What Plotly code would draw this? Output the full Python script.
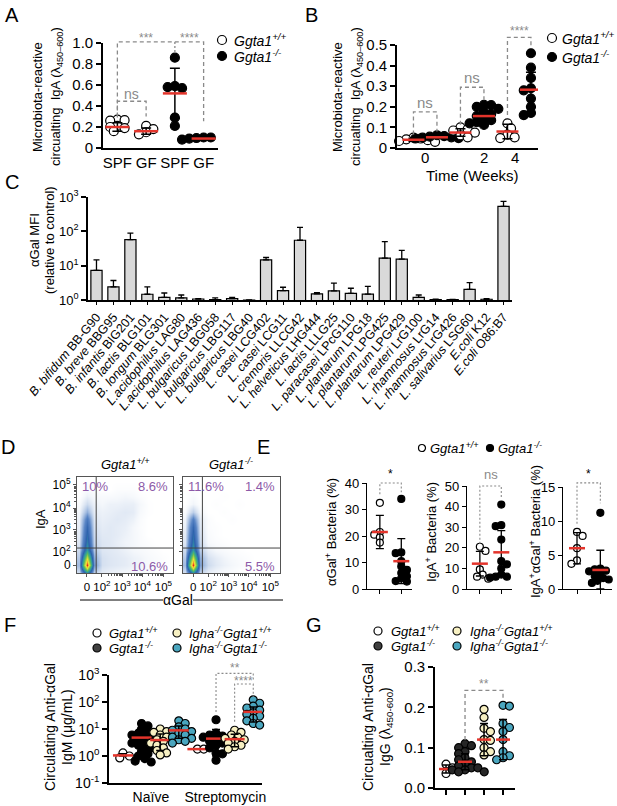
import numpy as np
import plotly.graph_objects as go

W, H = 617, 806
FONT = "Liberation Sans, Arial, Helvetica, sans-serif"
RED = "#e3342b"
GREY = "#8a8a8a"
PURPLE = "#8d5aa8"
FILL = {"wt": "white", "ko": "black", "kod": "#262626", "igwt": "#f7f0c2", "igko": "#4aa6bf"}

# ---------------- data ----------------
# A: microbiota-reactive IgA, SPF vs GF
A_GROUPS = ["SPF", "GF", "SPF", "GF"]
A_GENO = ["wt", "wt", "ko", "ko"]
A_POINTS = [
    [0.27, 0.265, 0.26, 0.21, 0.20, 0.19, 0.17, 0.16],
    [0.21, 0.18, 0.15, 0.13],
    [0.86, 0.59, 0.58, 0.57, 0.29, 0.21],
    [0.10, 0.10, 0.095, 0.09, 0.09, 0.085, 0.08, 0.08],
]
A_MEAN = [0.20, 0.16, 0.52, 0.09]
A_SD = [0.04, 0.03, 0.24, 0.01]

# B: time course
B_WEEKS = ["0", "2", "4"]
B_WT_POINTS = [
    [0.050, 0.046, 0.042, 0.038, 0.034, 0.030],
    [0.100, 0.092, 0.085, 0.075, 0.062, 0.052],
    [0.120, 0.095, 0.065, 0.052, 0.048],
]
B_KO_POINTS = [
    [0.062, 0.058, 0.055, 0.052, 0.050, 0.048, 0.046],
    [0.210, 0.208, 0.200, 0.190, 0.175, 0.165, 0.155, 0.145, 0.135, 0.125, 0.120, 0.112],
    [0.46, 0.39, 0.34, 0.29, 0.28, 0.24, 0.20, 0.17, 0.16, 0.16],
]
B_WT_MEAN = [0.040, 0.075, 0.080]
B_WT_SD = [0.007, 0.018, 0.035]
B_KO_MEAN = [0.052, 0.155, 0.283]
B_KO_SD = [0.005, 0.04, 0.085]

# C: alpha-Gal MFI of bacterial strains
C_STRAINS = [
    "<i>B. bifidum</i> BB-G90", "<i>B. breve</i> BBG95", "<i>B. infantis</i> BIG201",
    "<i>B. lactis</i> BLG101", "<i>B. longum</i> BLG301", "<i>L.acidophilus</i> LAG80",
    "<i>L.acidophilus</i> LAG436", "<i>L. bulgaricus</i> LBG058", "<i>L. bulgaricus</i> LBG117",
    "<i>L. bulgaricus</i> LBG40", "<i>L. casei</i> LCG402", "<i>L. casei</i> LCG11",
    "<i>L. cremoris</i> LLCG42", "<i>L. helveticus</i> LHG444", "<i>L. lactis</i> LLLG25",
    "<i>L. paracasei</i> LPcG110", "<i>L. plantarum</i> LPG18", "<i>L. plantarum</i> LPG425",
    "<i>L. plantarum</i> LPG429", "<i>L. reuteri</i> LrG100", "<i>L. rhamnosus</i> LrG14",
    "<i>L. rhamnosus</i> LrG426", "<i>L. salivarius</i> LSG60", "<i>E.coli</i> K12",
    "<i>E.coli</i> O86:B7",
]
C_MFI = [7.3, 2.4, 57, 1.47, 1.2, 1.15, 1.07, 1.02, 1.1, 1.0, 14.7, 1.87, 55, 1.5, 1.85,
         1.55, 1.48, 16.5, 15.5, 1.2, 1.02, 1.02, 2.05, 1.05, 535]
C_UPPER = [14.7, 3.7, 89, 2.4, 1.6, 1.4, 1.1, 1.15, 1.2, 1.0, 17.3, 2.35, 130, 1.65, 3.1,
           2.2, 2.5, 50, 28, 1.4, 1.05, 1.04, 3.2, 1.1, 750]

# D: flow cytometry density (grid, rows bottom -> top)
D_GRID_X = [0.02, 0.10, 0.18, 0.26, 0.34, 0.42, 0.50, 0.58, 0.66, 0.74, 0.82, 0.90, 0.98]
D_GRID_Y = [0.00, 0.08, 0.16, 0.24, 0.32, 0.40, 0.48, 0.56, 0.64, 0.72, 0.80, 0.88, 0.96]
D_WT_DENSITY = [
    [0.6, 4.0, 0.8, 0.4, 0.3, 0.25, 0.2, 0.15, 0.15, 0.1, 0, 0, 0],
    [1.2, 10, 1.8, 0.6, 0.5, 0.45, 0.4, 0.3, 0.25, 0.15, 0.1, 0.05, 0],
    [1.0, 7.5, 1.5, 0.6, 0.5, 0.45, 0.4, 0.3, 0.25, 0.15, 0.1, 0.05, 0],
    [0.7, 4.5, 1.0, 0.5, 0.45, 0.4, 0.3, 0.2, 0.15, 0.1, 0.05, 0, 0],
    [0.5, 3.8, 0.8, 0.5, 0.45, 0.35, 0.25, 0.2, 0.1, 0.05, 0, 0, 0],
    [0.4, 3.4, 0.7, 0.45, 0.45, 0.4, 0.3, 0.2, 0.1, 0, 0, 0, 0],
    [0.35, 3.0, 0.6, 0.4, 0.45, 0.4, 0.35, 0.2, 0.08, 0, 0, 0, 0],
    [0.3, 2.4, 0.5, 0.35, 0.4, 0.45, 0.4, 0.3, 0.1, 0, 0, 0, 0],
    [0.2, 1.4, 0.4, 0.3, 0.35, 0.4, 0.45, 0.4, 0.15, 0.03, 0, 0, 0],
    [0.1, 0.7, 0.3, 0.2, 0.3, 0.3, 0.35, 0.35, 0.18, 0.03, 0, 0, 0],
    [0, 0.3, 0.15, 0.12, 0.12, 0.15, 0.2, 0.15, 0.06, 0, 0, 0, 0],
    [0, 0.1, 0.06, 0, 0, 0.06, 0.06, 0.06, 0, 0, 0, 0, 0],
    [0, 0, 0, 0, 0, 0, 0, 0, 0, 0, 0, 0, 0],
]
D_KO_DENSITY = [
    [0.6, 4.0, 0.8, 0.35, 0.2, 0.12, 0.08, 0, 0, 0, 0, 0, 0],
    [1.2, 10, 1.6, 0.7, 0.45, 0.3, 0.2, 0.12, 0.08, 0, 0, 0, 0],
    [1.0, 7.5, 1.4, 0.6, 0.4, 0.25, 0.15, 0.1, 0.06, 0, 0, 0, 0],
    [0.7, 4.5, 0.9, 0.35, 0.18, 0.12, 0.06, 0.04, 0, 0, 0, 0, 0],
    [0.5, 3.8, 0.7, 0.15, 0.08, 0.04, 0, 0, 0, 0, 0, 0, 0],
    [0.45, 3.4, 0.6, 0.12, 0.04, 0, 0, 0, 0, 0, 0, 0, 0],
    [0.35, 3.0, 0.5, 0.08, 0.04, 0, 0, 0, 0, 0, 0, 0, 0],
    [0.25, 2.2, 0.4, 0.08, 0, 0, 0.04, 0, 0, 0, 0, 0, 0],
    [0.12, 0.9, 0.2, 0, 0, 0.04, 0, 0, 0, 0, 0, 0, 0],
    [0, 0.25, 0.05, 0, 0.04, 0, 0, 0.04, 0, 0, 0, 0, 0],
    [0, 0.1, 0, 0, 0, 0.03, 0, 0, 0, 0, 0, 0, 0],
    [0, 0.05, 0, 0, 0, 0, 0, 0, 0, 0, 0, 0, 0],
    [0, 0, 0, 0, 0, 0, 0, 0, 0, 0, 0, 0, 0],
]
D_WT_PCT = ["10%", "8.6%", "10.6%"]
D_KO_PCT = ["11.6%", "1.4%", "5.5%"]
D_TICKS = ["0", "10<sup>2</sup>", "10<sup>3</sup>", "10<sup>4</sup>", "10<sup>5</sup>"]

# E: bacteria percentages
E_TITLES = ["αGal<sup>+</sup> Bacteria (%)", "IgA<sup>+</sup> Bacteria (%)",
            "IgA<sup>+</sup>αGal<sup>+</sup> Bacteria (%)"]
E_WT_POINTS = [
    [32.5, 21.5, 20.5, 19.5, 17.5],
    [20.5, 18.5, 9.5, 7.0, 6.0, 5.0],
    [8.4, 7.8, 6.0, 4.2, 3.7],
]
E_KO_POINTS = [
    [34, 13.8, 13.5, 10.5, 8.5, 7.2, 6, 4.8, 4, 3, 2.8],
    [41, 31, 30.5, 24, 13.5, 12, 10, 7, 6, 6, 5.5],
    [11.2, 3.0, 2.9, 2.7, 2.6, 2.2, 1.9, 1.6, 1.4, 1.2, 0.9],
]
E_WT_MEAN = [21.5, 12.3, 6.0]
E_WT_SD = [6.3, 6.0, 2.3]
E_KO_MEAN = [10.5, 17.8, 2.8]
E_KO_SD = [8.5, 10.5, 2.9]
E_SIG = ["*", "ns", "*"]

# F: anti-aGal IgM
F_TREAT = ["Naïve", "Streptomycin"]
F_GENO = ["wt", "ko", "igwt", "igko", "wt", "ko", "igwt", "igko"]
F_POINTS = [
    [1.3, 1.0, 0.85],
    [16, 13, 10, 8, 7, 6, 5.5, 5, 4, 3.5, 3, 2.5, 2.2, 2, 1.5, 1.2, 1.0, 0.8, 0.65, 0.6],
    [10, 8, 7.5, 7, 6, 5, 4, 3.5, 3, 2.5, 2, 1.6, 1.3, 1.1],
    [20, 16, 12, 10, 9, 8, 7, 6, 5, 4.5, 4, 3.5, 3],
    [1.8, 1.8],
    [22, 7, 6, 5.5, 5, 4, 3.5, 3, 2.5, 2, 1.3, 1.2, 0.7],
    [9, 7.5, 6, 5, 4.5, 4, 3.5, 3, 2.5, 2.2, 1.8],
    [120, 90, 70, 60, 50, 45, 40, 35, 30, 25, 20, 16, 14],
]
F_MEAN = [1.05, 4.8, 3.9, 8.9, 1.8, 4.4, 4.2, 43]
F_LO = [1.0, 0.9, 1.6, 4.5, 1.8, 1.0, 2.2, 18]
F_HI = [1.2, 9.0, 6.5, 13, 1.8, 9.6, 6.4, 65]

# G: anti-aGal IgG
G_GENO = ["wt", "kod", "igwt", "igko"]
G_POINTS = [
    [0.059, 0.05, 0.036],
    [0.11, 0.105, 0.10, 0.09, 0.085, 0.075, 0.07, 0.065, 0.06, 0.055, 0.05, 0.05,
     0.045, 0.045, 0.04, 0.04],
    [0.195, 0.175, 0.148, 0.14, 0.12, 0.118, 0.10, 0.09, 0.082],
    [0.205, 0.203, 0.16, 0.15, 0.14, 0.12, 0.09, 0.08, 0.075, 0.07],
]
G_MEAN = [0.047, 0.065, 0.12, 0.12]
G_SD = [0.01, 0.02, 0.04, 0.05]

LEG_WT = "<i>Ggta1<sup>+/+</sup></i>"
LEG_KO = "<i>Ggta1<sup>-/-</sup></i>"
LEG_IGWT = "<i>Igha<sup>-/-</sup>Ggta1<sup>+/+</sup></i>"
LEG_IGKO = "<i>Igha<sup>-/-</sup>Ggta1<sup>-/-</sup></i>"

# ---------------- helpers ----------------
fig = go.Figure()
axes, shapes, annots = {}, [], []


def make_panel(n, x0, x1, ytop, ybot, xr, yr, ylog=False):
    s = "" if n == 1 else str(n)
    return dict(s=s, x0=x0, x1=x1, ytop=ytop, ybot=ybot, xr=xr, yr=yr, ylog=ylog)


def xpx(p, x):
    return p["x0"] + (x - p["xr"][0]) / (p["xr"][1] - p["xr"][0]) * (p["x1"] - p["x0"])


def ypx(p, y):
    f = np.log10 if p["ylog"] else float
    lo, hi = f(p["yr"][0]), f(p["yr"][1])
    return p["ybot"] - (f(y) - lo) / (hi - lo) * (p["ybot"] - p["ytop"])


def ppu(p):
    return (p["x1"] - p["x0"]) / (p["xr"][1] - p["xr"][0])


AX = dict(showline=True, linecolor="black", linewidth=1.6, ticks="outside", ticklen=5,
          tickwidth=1.6, tickcolor="black", showgrid=False, zeroline=False, fixedrange=True,
          automargin=False, tickfont=dict(family=FONT, size=15, color="black"))


def set_axes(p, xa=None, ya=None):
    s = p["s"]
    yr = [float(np.log10(v)) for v in p["yr"]] if p["ylog"] else list(p["yr"])
    xd = dict(AX)
    xd.update(domain=[p["x0"] / W, p["x1"] / W], range=list(p["xr"]), anchor="y" + s)
    xd.update(xa or {})
    yd = dict(AX)
    yd.update(domain=[1 - p["ybot"] / H, 1 - p["ytop"] / H], range=yr, anchor="x" + s,
              type="log" if p["ylog"] else "linear")
    yd.update(ya or {})
    axes["xaxis" + s] = xd
    axes["yaxis" + s] = yd


def tkw(p):
    return dict(xaxis="x" + p["s"], yaxis="y" + p["s"], showlegend=False, hoverinfo="skip")


def swarm(p, values, size, gap=0.85):
    ys = [ypx(p, v) for v in values]
    order = sorted(range(len(values)), key=lambda i: ys[i])
    placed, offs = [], [0.0] * len(values)
    step = size * 0.4
    for n, i in enumerate(order):
        k = 0
        while True:
            cands = [0.0] if k == 0 else ([k * step, -k * step] if n % 2 else [-k * step, k * step])
            ok = None
            for c in cands:
                if all((c - a) ** 2 + (ys[i] - b) ** 2 >= (size * gap) ** 2 for a, b in placed):
                    ok = c
                    break
            if ok is not None:
                break
            k += 1
        offs[i] = ok
        placed.append((ok, ys[i]))
    return offs


def dots(p, center, values, fill, size, lw=1.2, gap=0.85):
    offs = swarm(p, values, size, gap)
    fig.add_trace(go.Scatter(
        x=[center + o / ppu(p) for o in offs], y=values, mode="markers", cliponaxis=False,
        marker=dict(size=size, color=fill, line=dict(color="black", width=lw)), **tkw(p)))


def errbar(p, center, mean, lo, hi, cap=4, thick=1.5):
    fig.add_trace(go.Scatter(
        x=[center], y=[mean], mode="markers", cliponaxis=False,
        marker=dict(size=2, color="rgba(0,0,0,0)"),
        error_y=dict(type="data", symmetric=False, array=[hi - mean], arrayminus=[mean - lo],
                     color="black", thickness=thick, width=cap), **tkw(p)))


def mean_line(p, center, mean, half, width=2.5):
    d = half / ppu(p)
    fig.add_trace(go.Scatter(x=[center - d, center + d], y=[mean, mean], mode="lines",
                             line=dict(color=RED, width=width), **tkw(p)))


def bracket(p, pts, dash="4px,3px", width=1.3):
    path = "M " + " L ".join(f"{xpx(p, x) / W:.5f},{1 - ypx(p, y) / H:.5f}" for x, y in pts)
    shapes.append(dict(type="path", xref="paper", yref="paper", path=path,
                       line=dict(color=GREY, width=width, dash=dash)))


def note(x, y, text, size=13, color="black", angle=0, xanchor="center", yanchor="middle"):
    annots.append(dict(x=x / W, y=1 - y / H, xref="paper", yref="paper", text=text,
                       showarrow=False, textangle=angle, xanchor=xanchor, yanchor=yanchor,
                       font=dict(family=FONT, size=size, color=color)))


def circ(x, y, d, fill, lw=1.2):
    shapes.append(dict(type="circle", xref="paper", yref="paper", xsizemode="pixel",
                       ysizemode="pixel", xanchor=x / W, yanchor=1 - y / H,
                       x0=-d / 2, x1=d / 2, y0=-d / 2, y1=d / 2, fillcolor=fill,
                       line=dict(color="black", width=lw)))


# ---------------- A ----------------
pA = make_panel(1, 103, 218, 43, 148, (-0.5, 3.5), (0, 1.0))
set_axes(pA, xa=dict(tickvals=[0, 1, 2, 3], ticktext=A_GROUPS, ticks=""),
         ya=dict(tickvals=[0, 0.2, 0.4, 0.6, 0.8, 1.0],
                 ticktext=["0", "0.2", "0.4", "0.6", "0.8", "1.0"]))
for i, pts in enumerate(A_POINTS):
    dots(pA, i, pts, FILL[A_GENO[i]], 9, gap=0.6)
    errbar(pA, i, A_MEAN[i], A_MEAN[i] - A_SD[i], A_MEAN[i] + A_SD[i], cap=5)
    mean_line(pA, i, A_MEAN[i], 12)
bracket(pA, [(0, 0.30), (0, 0.445), (1, 0.445), (1, 0.30)])
bracket(pA, [(0, 0.29), (0, 1.01), (3, 1.01), (3, 0.255)])
bracket(pA, [(2, 1.01), (2, 0.905)], dash="2px,2px")
note(xpx(pA, 0.5), ypx(pA, 0.51), "ns", 14, GREY)
note(xpx(pA, 1), 38, "***", 12, GREY)
note(xpx(pA, 2.5), 38, "****", 12, GREY)
note(38, 97, "Microbiota-reactive", 13, angle=-90)
note(57, 97, "circualting\u00a0 IgA (λ<sub>450–600</sub>)", 13, angle=-90)
circ(222, 40, 9, "white")
circ(222, 56, 9, "black")
note(232, 40, LEG_WT, 14, xanchor="left")
note(232, 56, LEG_KO, 14, xanchor="left")

# ---------------- B ----------------
pB = make_panel(2, 397, 538, 45, 148, (-0.6, 2.4), (0, 0.5))
B_TICK_POS = [0, 1.25, 1.9]
set_axes(pB, xa=dict(tickvals=B_TICK_POS, showticklabels=False, ticks=""),
         ya=dict(tickvals=[0, 0.1, 0.2, 0.3, 0.4, 0.5],
                 ticktext=["0", "0.1", "0.2", "0.3", "0.4", "0.5"]))
for pos, lab in zip(B_TICK_POS, B_WEEKS):
    note(xpx(pB, pos), 158, lab, 15)
for g in range(3):
    dots(pB, g - 0.25, B_WT_POINTS[g], "white", 9, gap=0.65)
    dots(pB, g + 0.25, B_KO_POINTS[g], "black", 9, gap=0.65)
    for c, m, s in ((g - 0.25, B_WT_MEAN[g], B_WT_SD[g]), (g + 0.25, B_KO_MEAN[g], B_KO_SD[g])):
        errbar(pB, c, m, m - s, m + s, cap=5)
        mean_line(pB, c, m, 11)
bracket(pB, [(-0.25, 0.065), (-0.25, 0.175), (0.25, 0.175), (0.25, 0.08)])
bracket(pB, [(0.75, 0.113), (0.75, 0.295), (1.25, 0.295), (1.25, 0.234)])
bracket(pB, [(1.75, 0.16), (1.75, 0.537), (2.25, 0.537), (2.25, 0.49)])
note(xpx(pB, 0), ypx(pB, 0.22), "ns", 15, GREY)
note(xpx(pB, 1), ypx(pB, 0.34), "ns", 15, GREY)
note(xpx(pB, 2), 31, "****", 12, GREY)
note(472, 175, "Time (Weeks)", 15)
note(338, 97, "Microbiota-reactive", 13, angle=-90)
note(357, 97, "circualting\u00a0 IgA (λ<sub>450–600</sub>)", 13, angle=-90)
circ(552, 38, 9, "white")
circ(552, 57, 9, "black")
note(560, 38, LEG_WT, 14, xanchor="left")
note(560, 57, LEG_KO, 14, xanchor="left")

# ---------------- C ----------------
pC = make_panel(3, 88, 512, 197, 300, (-0.5, 24.5), (1, 1000), ylog=True)
set_axes(pC,
         xa=dict(tickvals=list(range(len(C_STRAINS))), ticktext=C_STRAINS, tickangle=-50,
                 ticklen=3, tickwidth=1.2, tickfont=dict(family=FONT, size=12.5, color="black")),
         ya=dict(tickvals=[1, 10, 100, 1000],
                 ticktext=["10<sup>0</sup>", "10<sup>1</sup>", "10<sup>2</sup>", "10<sup>3</sup>"],
                 tickfont=dict(family=FONT, size=13, color="black")))
fig.add_trace(go.Bar(
    x=list(range(len(C_MFI))), y=C_MFI, width=0.66,
    marker=dict(color="#d9d9d9", line=dict(color="black", width=1.2)),
    error_y=dict(type="data", symmetric=False, array=[u - m for u, m in zip(C_UPPER, C_MFI)],
                 arrayminus=[0] * len(C_MFI), color="black", thickness=1.3, width=3),
    **tkw(pC)))
note(35, 240, "αGal MFI", 13, angle=-90)
note(50, 240, "(relative to control)", 13, angle=-90)

# ---------------- D ----------------
D_TICK_X = [0.104, 0.26, 0.47, 0.68, 0.90]
D_TICK_Y = [0.083, 0.219, 0.448, 0.677, 0.917]


def minor_pos(major):
    out = []
    for a, b in zip(major[1:-1], major[2:]):
        out += [a + (b - a) * np.log10(k) for k in range(2, 10)]
    return [float(v) for v in out]


DCOLORS = [[0, "#ffffff"], [0.02, "#f4f7fb"], [0.05, "#dde6f3"], [0.1, "#b3c8e6"],
           [0.2, "#5a86c6"], [0.32, "#2e62ad"], [0.45, "#2f9aa0"], [0.58, "#5bbb5e"],
           [0.7, "#b5d43c"], [0.8, "#f2e23a"], [0.9, "#f39a2c"], [1.0, "#e2261f"]]
DAX = dict(linecolor="#555555", linewidth=1, mirror=True, ticklen=3, tickwidth=1,
           tickcolor="#555555", tickfont=dict(family=FONT, size=12, color="black"))
pD = [make_panel(4, 77, 173, 477, 573, (0, 1), (0, 1)),
      make_panel(5, 183, 280, 477, 573, (0, 1), (0, 1))]
for k, (p, dens, pct) in enumerate(zip(pD, [D_WT_DENSITY, D_KO_DENSITY], [D_WT_PCT, D_KO_PCT])):
    xa = dict(DAX, tickvals=D_TICK_X, ticktext=D_TICKS, tickangle=0,
              tickfont=dict(family=FONT, size=11.5, color="black"),
              minor=dict(tickvals=minor_pos(D_TICK_X), ticks="outside", ticklen=2,
                         tickcolor="#555555"))
    ya = dict(DAX, tickvals=D_TICK_Y, ticktext=D_TICKS, showticklabels=(k == 0),
              minor=dict(tickvals=minor_pos(D_TICK_Y), ticks="outside", ticklen=2,
                         tickcolor="#555555"))
    set_axes(p, xa=xa, ya=ya)
    fig.add_trace(go.Heatmap(x=D_GRID_X, y=D_GRID_Y, z=dens, zmin=0, zmax=10, zsmooth="best",
                             colorscale=DCOLORS, showscale=False, **tkw(p)))
    s = p["s"]
    shapes.append(dict(type="line", xref="x" + s, yref="y" + s, x0=0.2, x1=0.2, y0=0, y1=1,
                       line=dict(color="#444444", width=1)))
    shapes.append(dict(type="line", xref="x" + s, yref="y" + s, x0=0, x1=1, y0=0.26, y1=0.26,
                       line=dict(color="#444444", width=1)))
    note(p["x0"] + 3, 486, pct[0], 13, PURPLE, xanchor="left")
    note(p["x1"] - 3, 486, pct[1], 13, PURPLE, xanchor="right")
    note(p["x1"] - 3, 566, pct[2], 13, PURPLE, xanchor="right")
note(125, 464, LEG_WT, 13)
note(231, 464, LEG_KO, 13)
note(40, 519, "IgA", 13, angle=-90)
note(178, 600, "αGal", 14)
shapes.append(dict(type="line", xref="paper", yref="paper", x0=80 / W, x1=163 / W,
                   y0=1 - 600 / H, y1=1 - 600 / H, line=dict(color="black", width=1)))
shapes.append(dict(type="line", xref="paper", yref="paper", x0=193 / W, x1=283 / W,
                   y0=1 - 600 / H, y1=1 - 600 / H, line=dict(color="black", width=1)))

# ---------------- E ----------------
E_BOX = [(367, 412, 483, 40), (467, 512, 486, 50), (563, 612, 487, 15)]
E_YT = [[0, 10, 20, 30, 40], [0, 10, 20, 30, 40, 50], [0, 5, 10, 15]]
E_LEGS = [[(0, 35.8), (0, 40), (1, 40), (1, 36.5)],
          [(0, 22), (0, 50), (1, 50), (1, 44)],
          [(0, 9.6), (0, 15.6), (1, 15.6), (1, 12.6)]]
E_LAB_X = [331, 431, 535]
for k, (x0, x1, yt, ymax) in enumerate(E_BOX):
    p = make_panel(6 + k, x0, x1, yt, 589, (-0.6, 1.5), (0, ymax))
    set_axes(p, xa=dict(tickvals=[0, 1], showticklabels=False, ticklen=4, tickwidth=1.3),
             ya=dict(tickvals=E_YT[k], ticktext=[str(v) for v in E_YT[k]], ticklen=4,
                     tickwidth=1.3, tickfont=dict(family=FONT, size=13, color="black")))
    axes["xaxis" + p["s"]]["linewidth"] = 1.3
    axes["yaxis" + p["s"]]["linewidth"] = 1.3
    dots(p, 0, E_WT_POINTS[k], "white", 7, gap=0.75)
    dots(p, 1, E_KO_POINTS[k], "black", 7, gap=0.7)
    for c, m, sd in ((0, E_WT_MEAN[k], E_WT_SD[k]), (1, E_KO_MEAN[k], E_KO_SD[k])):
        errbar(p, c, m, max(m - sd, 0), m + sd, cap=4, thick=1.3)
        mean_line(p, c, m, 8)
    bracket(p, E_LEGS[k], dash="2px,2px", width=1.1)
    note(xpx(p, 0.5), 474, E_SIG[k], 13 if E_SIG[k] == "ns" else 12,
         GREY if E_SIG[k] == "ns" else "black")
    note(E_LAB_X[k], 532, E_TITLES[k], 13, angle=-90)
circ(422, 448, 7, "white")
circ(490, 448, 7, "black")
note(428, 448, LEG_WT, 13, xanchor="left")
note(496, 448, LEG_KO, 13, xanchor="left")

# ---------------- F ----------------
pF = make_panel(9, 109, 262, 675, 783, (-0.75, 7.47), (0.1, 1000), ylog=True)
set_axes(pF, xa=dict(tickvals=[1.5, 5.5], ticktext=F_TREAT, ticks="",
                     tickfont=dict(family=FONT, size=14, color="black")),
         ya=dict(tickvals=[0.1, 1, 10, 100, 1000],
                 ticktext=["10<sup>-1</sup>", "10<sup>0</sup>", "10<sup>1</sup>",
                           "10<sup>2</sup>", "10<sup>3</sup>"],
                 tickfont=dict(family=FONT, size=14, color="black")))
for i in range(len(F_POINTS)):
    dots(pF, i, F_POINTS[i], FILL[F_GENO[i]], 8, gap=0.65)
    errbar(pF, i, F_MEAN[i], F_LO[i], F_HI[i], cap=4)
    mean_line(pF, i, F_MEAN[i], 10)
bracket(pF, [(5, 43), (5, 1150), (7, 1150), (7, 650)], dash="2px,2px", width=1.1)
bracket(pF, [(6, 18.5), (6, 463), (7, 463), (7, 157)], dash="2px,2px", width=1.1)
note(xpx(pF, 6), 668, "**", 12, GREY)
note(xpx(pF, 6.5), 681, "****", 12, GREY)
note(50, 727, "Circulating Anti-αGal", 14, angle=-90)
note(67, 727, "IgM (μg/mL)", 14, angle=-90)
circ(97, 633, 8, FILL["wt"])
circ(97, 648, 8, "#404040")
circ(177, 633, 8, FILL["igwt"])
circ(177, 648, 8, FILL["igko"])
note(107, 633, LEG_WT, 13, xanchor="left")
note(107, 648, LEG_KO, 13, xanchor="left")
note(187, 633, LEG_IGWT, 13, xanchor="left")
note(187, 648, LEG_IGKO, 13, xanchor="left")

# ---------------- G ----------------
pG = make_panel(10, 435, 515, 667, 788, (-0.58, 3.63), (0, 0.3))
set_axes(pG, xa=dict(tickvals=[0, 1, 2, 3], showticklabels=False),
         ya=dict(tickvals=[0, 0.1, 0.2, 0.3], ticktext=["0.0", "0.1", "0.2", "0.3"]))
for i in range(len(G_POINTS)):
    dots(pG, i, G_POINTS[i], FILL[G_GENO[i]], 8, gap=0.7)
    errbar(pG, i, G_MEAN[i], G_MEAN[i] - G_SD[i], G_MEAN[i] + G_SD[i], cap=4)
    mean_line(pG, i, G_MEAN[i], 7)
bracket(pG, [(1, 0.119), (1, 0.242), (3, 0.242), (3, 0.219)])
note(xpx(pG, 2), 684, "**", 12, GREY)
note(368, 727, "Circualting Anti-αGal", 14, angle=-90)
note(386, 727, "IgG (λ<sub>450-600</sub>)", 14, angle=-90)
circ(378, 631, 8, FILL["wt"])
circ(378, 646, 8, "#404040")
circ(457, 631, 8, FILL["igwt"])
circ(457, 646, 8, FILL["igko"])
note(389, 631, LEG_WT, 13, xanchor="left")
note(389, 646, LEG_KO, 13, xanchor="left")
note(468, 631, LEG_IGWT, 13, xanchor="left")
note(468, 646, LEG_IGKO, 13, xanchor="left")

# ---------------- panel letters ----------------
for letter, x, y in [("A", 12, 15), ("B", 311, 15), ("C", 12, 182), ("D", 8, 447),
                     ("E", 263, 447), ("F", 10, 625), ("G", 314, 625)]:
    note(x, y, letter, 20)

fig.update_layout(width=W, height=H, margin=dict(l=0, r=0, t=0, b=0), autosize=False,
                  paper_bgcolor="white", plot_bgcolor="rgba(0,0,0,0)", showlegend=False,
                  font=dict(family=FONT, color="black"), annotations=annots, shapes=shapes,
                  **axes)
fig.write_html("out.html", config=dict(displayModeBar=False),
               post_script="document.body.style.margin='0';")
